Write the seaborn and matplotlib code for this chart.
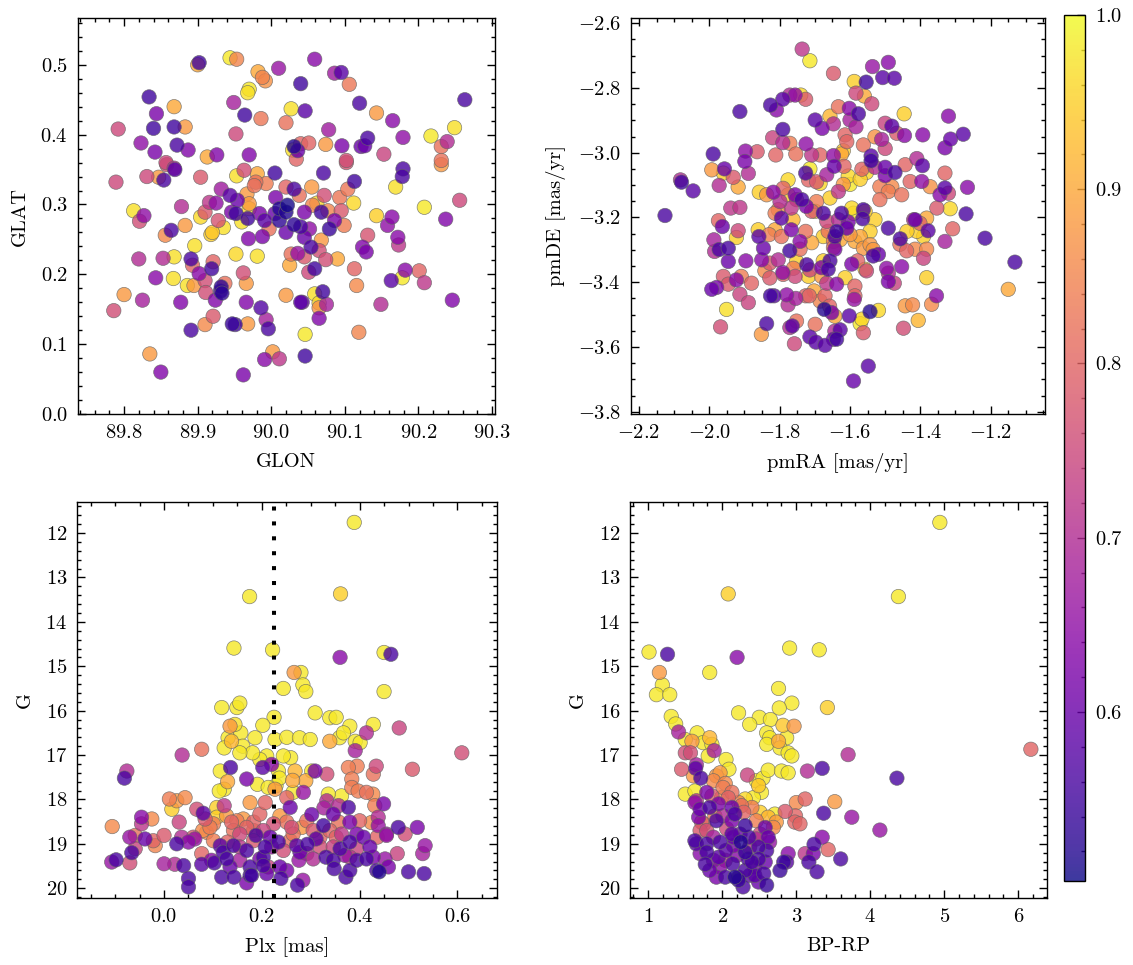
import numpy as np
import pandas as pd
import matplotlib
matplotlib.use("Agg")
import matplotlib.pyplot as plt
import seaborn as sns
from matplotlib.colors import Normalize
from matplotlib.cm import ScalarMappable

# ---------------- data: (x, y, membership probability) ----------------
sky_pts = [
 (89.792,0.408,.75),(89.834,0.454,.55),(89.844,0.430,.62),(89.840,0.409,.55),(89.823,0.388,.65),(89.842,0.375,.62),
 (89.868,0.440,.90),(89.868,0.411,.55),(89.883,0.411,.88),(89.872,0.385,.56),(89.887,0.378,.63),(89.900,0.500,.90),
 (89.902,0.503,.55),(89.944,0.510,.98),(89.953,0.508,.85),(89.949,0.446,.68),(89.952,0.401,.75),(89.964,0.428,.55),
 (89.970,0.371,.63),(89.926,0.371,.63),(89.913,0.368,.90),(89.982,0.490,.90),(89.988,0.482,.85),(89.992,0.477,.87),
 (89.970,0.465,.98),(89.968,0.460,.97),(89.986,0.423,.83),(90.010,0.495,.66),(90.020,0.417,.82),(90.027,0.437,.97),
 (90.040,0.473,.55),(90.046,0.434,.58),(90.059,0.508,.64),(90.029,0.378,.97),(90.031,0.383,.52),(90.036,0.377,.60),
 (90.040,0.387,.80),(90.051,0.388,.80),(90.034,0.365,.80),(90.078,0.407,.67),(90.074,0.386,.88),(90.086,0.488,.67),
 (90.095,0.489,.58),(90.106,0.472,.83),(90.096,0.384,.62),(90.120,0.445,.56),(90.131,0.395,.56),(90.122,0.383,.60),
 (90.127,0.384,.60),(90.143,0.431,.88),(90.165,0.420,.64),(90.153,0.372,.74),(90.179,0.396,.65),(90.102,0.363,.76),
 (90.217,0.398,.98),(90.231,0.383,.82),(90.239,0.390,.70),(90.249,0.410,.97),(90.263,0.450,.56),(89.857,0.360,.75),
 (90.231,0.363,.82),
 (89.789,0.332,.75),(89.813,0.291,.97),(89.827,0.284,.65),(89.821,0.276,.76),(89.831,0.340,.75),(89.847,0.339,.88),
 (89.854,0.335,.56),(89.858,0.357,.77),(89.868,0.352,.70),(89.869,0.350,.58),(89.878,0.297,.70),(89.904,0.339,.78),
 (89.864,0.263,.56),(89.856,0.256,.86),(89.883,0.270,.88),(89.896,0.241,.97),(89.904,0.282,.96),(89.910,0.289,.78),
 (89.916,0.303,.72),(89.925,0.302,.65),(89.920,0.260,.94),(89.918,0.257,.95),(89.928,0.277,.77),(89.935,0.267,.97),
 (89.932,0.322,.67),(89.944,0.313,.58),(89.953,0.341,.97),(89.963,0.349,.76),(89.954,0.306,.60),(89.952,0.287,.55),
 (89.946,0.289,.62),(89.960,0.275,.97),(89.967,0.315,.88),(89.970,0.301,.88),(89.970,0.294,.96),(89.968,0.280,.55),
 (89.969,0.251,.63),(89.981,0.344,.90),(89.979,0.332,.82),(89.977,0.327,.82),(89.993,0.330,.84),(90.005,0.345,.55),
 (89.991,0.277,.58),(89.988,0.254,.62),(89.997,0.265,.82),(90.006,0.310,.62),(90.005,0.287,.60),(89.984,0.287,.62),
 (90.020,0.325,.80),(90.031,0.322,.56),(90.022,0.299,.51),(90.011,0.294,.52),(90.020,0.289,.52),(90.011,0.277,.53),
 (90.031,0.271,.53),(90.040,0.268,.56),(90.020,0.260,.60),(90.045,0.289,.62),(90.045,0.253,.60),(90.038,0.313,.82),
 (90.055,0.325,.88),(90.056,0.299,.85),(90.052,0.265,.65),(90.054,0.239,.56),(90.062,0.302,.96),(90.068,0.289,.55),
 (90.071,0.345,.56),(90.072,0.313,.76),(90.077,0.291,.85),(90.068,0.249,.88),(90.065,0.234,.76),(90.074,0.221,.76),
 (90.079,0.265,.54),(90.086,0.277,.62),(90.095,0.291,.78),(90.090,0.222,.90),(90.093,0.310,.83),(90.104,0.322,.83),
 (90.113,0.333,.55),(90.102,0.360,.77),(90.112,0.302,.96),(90.099,0.270,.84),(90.059,0.208,.55),(90.051,0.203,.75),
 (90.036,0.230,.66),(90.027,0.229,.82),(90.025,0.213,.90),(90.045,0.225,.78),(90.113,0.208,.80),(90.131,0.256,.77),
 (90.124,0.239,.63),(90.129,0.232,.62),(90.143,0.284,.95),(90.158,0.270,.65),(90.164,0.282,.64),(90.172,0.253,.64),
 (90.173,0.242,.72),(90.169,0.325,.97),(90.179,0.351,.56),(90.178,0.340,.56),(90.208,0.296,.98),(90.231,0.357,.88),
 (90.237,0.279,.63),(90.256,0.306,.75),(90.182,0.206,.64),(90.178,0.195,.98),(90.163,0.191,.58),(90.201,0.205,.80),
 (90.208,0.188,.72),(90.116,0.184,.86),(89.820,0.222,.70),(89.853,0.223,.70),(89.868,0.225,.97),(89.843,0.195,.64),
 (89.867,0.194,.97),(89.891,0.222,.56),(89.893,0.213,.80),(89.902,0.201,.64),(89.919,0.208,.55),(89.921,0.218,.80),
 (89.910,0.191,.76),(89.886,0.184,.97),(89.895,0.184,.88),(89.932,0.182,.53),(89.937,0.187,.82),(89.952,0.229,.96),
 (89.962,0.202,.76),(89.966,0.187,.88),(89.981,0.226,.97),
 (89.786,0.148,.76),(89.800,0.171,.88),(89.825,0.163,.68),(89.835,0.086,.88),(89.850,0.060,.63),(89.877,0.160,.63),
 (89.891,0.120,.56),(89.910,0.128,.86),(89.921,0.140,.78),(89.911,0.174,.76),(89.924,0.163,.63),(89.933,0.173,.53),
 (89.931,0.176,.55),(89.947,0.129,.54),(89.951,0.128,.55),(89.966,0.160,.63),(89.968,0.129,.88),(89.962,0.056,.62),
 (89.986,0.152,.57),(89.993,0.135,.68),(89.996,0.122,.56),(89.991,0.078,.64),(90.002,0.089,.88),(90.011,0.079,.72),
 (90.020,0.170,.88),(90.040,0.160,.58),(90.042,0.160,.60),(90.046,0.114,.98),(90.046,0.083,.55),(90.059,0.172,.97),
 (90.065,0.159,.96),(90.065,0.152,.87),(90.070,0.175,.55),(90.075,0.157,.68),(90.065,0.137,.63),(90.119,0.117,.85),
 (90.149,0.157,.70),(90.246,0.163,.63),
]

pm_pts = [
 (-1.736,-2.680,.72),(-1.714,-2.716,.98),(-1.647,-2.755,.78),(-1.588,-2.780,.95),(-1.554,-2.782,.55),(-1.536,-2.734,.66),
 (-1.507,-2.768,.58),(-1.491,-2.721,.64),(-1.474,-2.770,.58),(-1.913,-2.873,.56),(-1.826,-2.853,.56),(-1.809,-2.868,.64),
 (-1.791,-2.835,.58),(-1.771,-2.822,.70),(-1.756,-2.822,.65),(-1.740,-2.822,.96),(-1.726,-2.835,.78),(-1.699,-2.899,.58),
 (-1.679,-2.925,.62),(-1.657,-2.887,.92),(-1.647,-2.911,.70),(-1.633,-2.858,.82),(-1.602,-2.863,.64),(-1.576,-2.880,.56),
 (-1.600,-2.899,.68),(-1.583,-2.920,.68),(-1.583,-2.816,.75),(-1.559,-2.825,.90),(-1.538,-2.849,.75),(-1.614,-2.945,.80),
 (-1.609,-2.966,.80),(-1.562,-2.976,.82),(-1.529,-2.951,.87),(-1.510,-2.959,.68),(-1.500,-2.987,.75),(-1.500,-2.909,.74),
 (-1.481,-2.918,.58),(-1.467,-2.940,.78),(-1.445,-2.947,.64),(-1.446,-2.880,.95),(-1.393,-2.945,.64),(-1.320,-2.887,.64),
 (-1.330,-2.985,.62),(-1.314,-2.958,.60),(-1.278,-2.943,.58),(-1.820,-2.954,.74),(-1.791,-2.969,.70),(-1.791,-2.928,.56),
 (-1.771,-2.971,.84),(-1.725,-2.973,.65),(-1.754,-3.004,.82),(-1.989,-3.004,.56),(-1.897,-2.995,.65),(-1.864,-2.997,.78),
 (-1.811,-3.007,.80),(-1.685,-3.007,.80),(-1.647,-3.009,.65),(-1.624,-3.004,.90),(-1.619,-2.994,.95),(-1.540,-3.010,.58),
 (-1.410,-3.018,.70),(-1.709,-3.007,.72),
 (-2.126,-3.194,.56),(-2.082,-3.084,.70),(-2.079,-3.091,.55),(-2.046,-3.118,.58),(-1.993,-3.053,.88),(-1.957,-3.050,.60),
 (-1.960,-3.063,.95),(-1.932,-3.076,.78),(-1.918,-3.106,.90),(-1.972,-3.101,.70),(-1.899,-3.027,.62),(-1.889,-3.064,.70),
 (-1.939,-3.171,.72),(-1.913,-3.169,.72),(-1.974,-3.210,.80),(-1.963,-3.228,.60),(-1.918,-3.241,.75),(-1.923,-3.262,.95),
 (-1.987,-3.269,.68),(-1.985,-3.305,.70),(-1.972,-3.299,.56),(-1.946,-3.295,.56),(-1.946,-3.336,.60),(-1.896,-3.334,.64),
 (-1.960,-3.382,.78),(-1.923,-3.393,.64),(-1.909,-3.382,.84),(-1.880,-3.403,.80),(-1.858,-3.122,.95),(-1.837,-3.130,.88),
 (-1.818,-3.122,.64),(-1.799,-3.151,.70),(-1.813,-3.187,.84),(-1.795,-3.202,.58),(-1.804,-3.176,.88),(-1.861,-3.238,.95),
 (-1.859,-3.259,.58),(-1.830,-3.253,.84),(-1.813,-3.238,.90),(-1.795,-3.259,.82),(-1.846,-3.295,.60),(-1.804,-3.331,.70),
 (-1.771,-3.303,.55),(-1.752,-3.336,.95),(-1.742,-3.274,.64),(-1.742,-3.298,.82),(-1.767,-3.238,.62),(-1.762,-3.207,.92),
 (-1.767,-3.171,.72),(-1.776,-3.130,.95),(-1.776,-3.084,.96),(-1.790,-3.110,.80),(-1.756,-3.130,.62),(-1.737,-3.145,.56),
 (-1.724,-3.166,.62),(-1.726,-3.063,.56),(-1.714,-3.050,.98),(-1.718,-3.084,.80),(-1.695,-3.090,.78),(-1.685,-3.095,.96),
 (-1.695,-3.151,.84),(-1.709,-3.181,.78),(-1.726,-3.243,.82),(-1.723,-3.346,.56),(-1.761,-3.357,.84),(-1.756,-3.382,.75),
 (-1.699,-3.181,.95),(-1.676,-3.187,.56),(-1.657,-3.140,.95),(-1.633,-3.120,.72),(-1.666,-3.068,.68),(-1.645,-3.042,.60),
 (-1.617,-3.042,.80),(-1.619,-3.098,.88),(-1.600,-3.098,.98),(-1.605,-3.072,.96),(-1.571,-3.082,.95),(-1.566,-3.051,.80),
 (-1.553,-3.061,.96),(-1.540,-3.025,.55),(-1.529,-3.045,.70),(-1.500,-3.045,.60),(-1.500,-3.071,.62),(-1.472,-3.061,.56),
 (-1.515,-3.105,.84),(-1.491,-3.120,.84),(-1.481,-3.105,.86),(-1.515,-3.145,.82),(-1.453,-3.130,.82),(-1.429,-3.089,.80),
 (-1.396,-3.089,.65),(-1.372,-3.105,.87),(-1.443,-3.037,.80),(-1.394,-3.040,.58),(-1.330,-3.063,.80),(-1.344,-3.130,.64),
 (-1.330,-3.109,.58),(-1.320,-3.125,.75),(-1.353,-3.171,.78),(-1.315,-3.173,.96),(-1.266,-3.107,.64),(-1.270,-3.189,.56),
 (-1.216,-3.264,.56),(-1.131,-3.338,.56),(-1.382,-3.386,.95),(-1.330,-3.274,.68),(-1.308,-3.235,.80),(-1.378,-3.241,.58),
 (-1.391,-3.259,.95),(-1.410,-3.243,.95),(-1.419,-3.207,.70),(-1.415,-3.207,.60),(-1.401,-3.218,.80),(-1.382,-3.202,.90),
 (-1.438,-3.243,.95),(-1.457,-3.266,.56),(-1.458,-3.283,.82),(-1.439,-3.303,.80),(-1.415,-3.298,.86),(-1.391,-3.326,.74),
 (-1.382,-3.298,.86),(-1.453,-3.352,.64),(-1.496,-3.357,.65),(-1.491,-3.372,.70),(-1.491,-3.398,.62),(-1.474,-3.403,.74),
 (-1.491,-3.233,.56),(-1.529,-3.207,.95),(-1.543,-3.243,.95),(-1.557,-3.181,.95),(-1.562,-3.176,.56),(-1.564,-3.204,.56),
 (-1.595,-3.171,.96),(-1.590,-3.187,.98),(-1.624,-3.187,.56),(-1.633,-3.207,.70),(-1.605,-3.214,.62),(-1.609,-3.233,.60),
 (-1.638,-3.243,.55),(-1.643,-3.259,.56),(-1.662,-3.243,.82),(-1.666,-3.212,.75),(-1.676,-3.259,.95),(-1.647,-3.274,.82),
 (-1.628,-3.269,.90),(-1.600,-3.253,.88),(-1.586,-3.274,.90),(-1.571,-3.259,.90),(-1.562,-3.295,.88),(-1.543,-3.284,.88),
 (-1.534,-3.319,.56),(-1.519,-3.314,.60),(-1.534,-3.299,.88),(-1.553,-3.365,.75),(-1.557,-3.360,.95),(-1.578,-3.334,.80),
 (-1.595,-3.344,.62),(-1.614,-3.386,.95),(-1.638,-3.406,.64),(-1.647,-3.293,.82),(-1.643,-3.298,.62),(-1.657,-3.334,.56),
 (-1.662,-3.360,.56),(-1.676,-3.334,.95),(-1.681,-3.355,.62),(-1.681,-3.382,.88),(-1.666,-3.403,.72),(-1.586,-3.412,.80),
 (-1.851,-3.331,.64),(-1.828,-3.341,.78),(-1.842,-3.365,.86),(-1.828,-3.387,.78),(-1.791,-3.370,.65),(-1.790,-3.376,.80),
 (-1.718,-3.382,.95),(-1.714,-3.362,.75),(-1.752,-3.145,.75),(-1.709,-3.278,.90),
 (-1.993,-3.422,.60),(-1.979,-3.416,.62),(-1.946,-3.406,.78),(-1.913,-3.437,.74),(-1.889,-3.463,.74),(-1.951,-3.484,.97),
 (-1.968,-3.538,.76),(-1.852,-3.561,.88),(-1.837,-3.528,.56),(-1.826,-3.442,.55),(-1.816,-3.442,.58),(-1.780,-3.439,.65),
 (-1.776,-3.470,.70),(-1.754,-3.450,.68),(-1.752,-3.520,.82),(-1.771,-3.540,.70),(-1.764,-3.535,.58),(-1.758,-3.590,.75),
 (-1.726,-3.442,.80),(-1.716,-3.442,.80),(-1.702,-3.427,.90),(-1.699,-3.530,.82),(-1.714,-3.569,.58),(-1.697,-3.585,.58),
 (-1.671,-3.595,.58),(-1.685,-3.458,.85),(-1.671,-3.442,.80),(-1.673,-3.484,.52),(-1.658,-3.474,.80),(-1.652,-3.494,.62),
 (-1.643,-3.505,.90),(-1.643,-3.551,.70),(-1.628,-3.547,.58),(-1.638,-3.576,.55),(-1.647,-3.576,.60),(-1.588,-3.453,.66),
 (-1.586,-3.442,.80),(-1.602,-3.504,.58),(-1.566,-3.514,.96),(-1.571,-3.528,.98),(-1.562,-3.556,.78),(-1.543,-3.491,.52),
 (-1.519,-3.487,.96),(-1.548,-3.659,.58),(-1.590,-3.705,.60),(-1.443,-3.473,.88),(-1.422,-3.470,.86),(-1.448,-3.542,.76),
 (-1.406,-3.518,.92),(-1.368,-3.468,.86),(-1.354,-3.442,.64),(-1.150,-3.422,.90),
]

plx_pts = [
 (0.389,11.76,.98),(0.175,13.43,.98),(0.361,13.37,.95),(0.143,14.59,.98),(0.222,14.63,.98),(0.360,14.80,.64),
 (0.450,14.69,.98),(0.464,14.73,.56),(0.266,15.14,.88),(0.280,15.14,.98),(0.284,15.42,.98),(0.244,15.50,.98),
 (0.290,15.57,.98),(0.450,15.57,.98),
 (0.118,15.93,.98),(0.149,15.93,.98),(0.155,15.83,.98),(0.309,16.05,.98),(0.225,16.15,.98),(0.135,16.35,.88),
 (0.145,16.31,.97),(0.138,16.69,.92),(0.131,16.61,.98),(0.157,16.50,.98),(0.123,16.84,.98),(0.161,16.80,.98),
 (0.186,16.61,.98),(0.202,16.33,.98),(0.227,16.65,.98),(0.251,16.60,.98),(0.277,16.61,.98),(0.299,16.65,.98),
 (0.339,16.69,.90),(0.339,16.16,.98),(0.352,16.15,.98),(0.359,16.61,.98),(0.380,16.35,.98),(0.367,16.50,.98),
 (0.391,16.69,.98),(0.401,16.72,.98),(0.428,16.31,.98),(0.414,16.50,.70),(0.391,16.90,.68),(0.481,16.39,.74),
 (0.609,16.95,.76),(0.508,17.32,.78),(0.434,17.25,.75),(0.428,17.43,.82),(0.395,17.25,.84),(0.377,17.28,.84),
 (0.384,17.54,.84),(0.384,17.73,.84),(0.397,17.81,.84),(0.414,17.84,.82),(0.363,17.92,.98),(0.336,17.88,.98),
 (0.333,17.43,.76),(0.309,17.36,.62),(0.302,17.36,.98),(0.290,17.58,.90),(0.285,17.84,.66),(0.268,17.36,.92),
 (0.263,17.57,.90),(0.264,17.84,.98),(0.259,17.06,.98),(0.244,17.02,.98),(0.234,17.36,.98),(0.229,17.69,.98),
 (0.227,17.77,.88),(0.236,17.52,.98),(0.220,17.21,.64),(0.202,17.28,.58),(0.210,17.02,.98),(0.196,17.10,.98),
 (0.181,16.95,.98),(0.191,17.66,.98),(0.213,17.73,.98),(0.169,17.54,.62),(0.155,16.95,.98),(0.130,17.60,.90),
 (0.123,17.77,.98),(0.115,17.36,.98),(0.136,17.28,.56),(0.113,17.81,.98),(0.077,16.87,.82),(0.037,17.00,.70),
 (-0.076,17.36,.70),(-0.081,17.52,.56),(0.011,17.99,.84),(0.026,18.03,.88),(0.043,17.96,.86),(0.016,18.22,.95),
 (-0.025,18.44,.86),(-0.046,18.40,.64),(-0.046,18.55,.72),(-0.106,18.61,.86),(0.067,18.22,.76),(0.080,18.31,.58),
 (0.031,18.51,.74),(0.108,18.18,.95),(0.123,18.14,.72),(0.108,18.40,.95),(0.128,18.37,.88),(0.101,18.55,.84),
 (0.087,18.74,.86),(0.079,18.70,.86),(0.060,18.85,.78),(-0.070,18.85,.66),(-0.059,18.81,.82),(-0.039,18.89,.60),
 (-0.022,18.93,.80),(-0.018,19.04,.85),(0.000,18.81,.78),(0.026,19.00,.56),(0.036,18.85,.70),(0.063,18.89,.66),
 (0.050,18.96,.64),(-0.066,19.20,.56),(-0.059,19.11,.74),(-0.107,19.41,.66),(-0.098,19.36,.56),(-0.070,19.43,.76),
 (0.000,19.45,.68),(0.022,19.46,.70),(0.040,19.49,.56),(0.050,19.78,.56),(0.050,19.97,.56),(0.077,19.46,.58),
 (0.077,19.22,.80),(0.097,19.37,.64),(0.103,19.43,.56),(0.115,19.04,.58),(0.121,19.19,.56),(0.128,19.34,.56),
 (0.118,19.75,.56),(0.143,19.75,.56),(0.135,19.52,.60),(0.169,19.88,.62),(0.176,19.52,.56),(0.176,19.71,.55),
 (0.179,19.71,.55),(0.203,19.30,.56),(0.203,19.49,.56),(0.210,19.67,.60),(0.169,19.15,.56),(0.188,18.81,.56),
 (0.217,18.85,.60),(0.234,18.96,.56),(0.239,19.78,.56),(0.251,19.60,.62),(0.237,19.52,.60),(0.273,19.93,.56),
 (0.284,19.82,.66),(0.276,19.37,.66),(0.271,19.04,.58),(0.278,19.19,.60),(0.293,19.01,.56),(0.311,18.89,.58),
 (0.302,18.34,.60),(0.258,18.18,.60),(0.327,18.19,.68),(0.326,18.59,.55),(0.331,19.30,.56),(0.346,19.37,.56),
 (0.348,19.56,.56),(0.360,19.11,.56),(0.372,19.75,.56),(0.380,19.60,.56),(0.380,18.96,.56),(0.380,18.51,.62),
 (0.377,18.18,.56),(0.333,18.03,.70),(0.400,18.48,.80),(0.394,18.78,.62),(0.408,18.85,.60),(0.394,19.37,.56),
 (0.414,19.34,.56),(0.421,19.07,.60),(0.428,19.30,.62),(0.436,18.85,.80),(0.438,18.40,.70),(0.438,18.59,.66),
 (0.449,18.10,.62),(0.431,18.14,.84),(0.427,17.88,.86),(0.424,18.52,.86),(0.455,18.78,.66),(0.455,18.81,.66),
 (0.435,19.60,.56),(0.440,19.63,.52),(0.459,19.52,.62),(0.452,19.34,.66),(0.479,18.63,.56),(0.493,18.78,.76),
 (0.477,19.22,.74),(0.500,19.63,.56),(0.518,18.63,.62),(0.529,19.22,.68),(0.534,19.04,.66),(0.532,19.67,.56),
 (0.149,18.48,.84),(0.162,18.44,.88),(0.142,18.70,.82),(0.183,18.51,.80),(0.196,18.33,.80),(0.207,18.07,.80),
 (0.176,18.07,.88),(0.169,18.63,.80),(0.155,18.78,.75),(0.183,18.93,.78),(0.203,18.70,.74),(0.224,18.55,.76),
 (0.251,18.51,.82),(0.237,18.37,.88),(0.251,17.96,.80),(0.261,18.63,.76),(0.282,18.63,.88),(0.292,18.48,.82),
 (0.305,18.70,.78),(0.319,18.85,.80),(0.339,18.70,.80),(0.357,18.51,.82),(0.352,18.85,.80),(0.363,18.78,.72),
 (0.346,18.33,.60),(0.357,18.14,.70),(0.130,18.96,.80),(0.155,19.07,.72),(0.142,19.04,.56),(0.101,18.93,.84),
 (0.220,19.07,.66),(0.244,19.15,.76),(0.258,18.93,.82),(0.292,19.22,.72),(0.305,19.34,.70),(0.196,19.34,.62),
 (0.264,18.78,.82),(0.183,18.70,.82),(0.138,18.51,.80),(0.094,18.63,.84),(0.084,18.44,.78),(0.207,19.07,.56),
 (0.213,19.52,.74),(0.155,19.37,.68),(0.380,19.30,.72),(0.394,19.11,.74),(0.370,19.26,.66),(0.346,19.07,.74),
 (0.319,19.07,.76),
]

cmd_pts = [
 (4.94,11.76,.98),(2.08,13.37,.95),(4.38,13.43,.98),(1.01,14.68,.98),(1.26,14.73,.56),(2.20,14.80,.64),
 (2.91,14.59,.98),(3.31,14.63,.98),(1.15,15.14,.88),(1.83,15.14,.98),(1.19,15.42,.98),(2.76,15.50,.98),
 (1.11,15.64,.98),(1.29,15.64,.98),(2.94,15.83,.98),(2.77,15.94,.98),(3.42,15.93,.95),(2.22,16.05,.98),
 (2.50,16.15,.98),(2.65,16.20,.98),(2.37,16.31,.98),(2.82,16.33,.94),(2.97,16.35,.88),(1.31,16.13,.98),
 (1.37,16.30,.98),(1.41,16.48,.68),(1.66,16.50,.98),(1.50,16.65,.98),(1.59,16.69,.88),(1.74,16.72,.98),
 (1.83,16.61,.92),(1.86,16.76,.98),(2.60,16.50,.98),(2.64,16.61,.98),(2.76,16.69,.90),(2.87,16.61,.98),
 (2.78,16.84,.98),(2.60,16.76,.98),(2.89,16.95,.98),(2.94,17.02,.98),(1.50,16.95,.76),(1.57,16.95,.76),
 (1.89,16.90,.68),(1.81,17.02,.98),(2.05,17.10,.98),(2.09,17.32,.98),(1.65,17.22,.68),(1.64,17.30,.58),
 (1.71,17.52,.56),(1.45,17.32,.78),(1.61,17.47,.88),(1.50,17.88,.98),(1.63,17.81,.98),(1.79,17.84,.62),
 (1.65,18.03,.70),(1.92,17.47,.88),(1.88,17.58,.86),(1.97,17.40,.88),(2.04,17.64,.86),(2.13,17.84,.82),
 (2.34,17.45,.74),(2.46,17.58,.98),(2.55,17.52,.98),(2.49,17.69,.94),(2.53,17.84,.98),(2.62,17.34,.98),
 (2.80,17.36,.98),(2.89,17.40,.98),(2.42,17.96,.98),(2.31,17.99,.96),(2.51,18.29,.95),(2.62,18.40,.92),
 (2.71,18.33,.98),(2.73,18.51,.88),(2.69,18.63,.86),(2.85,18.27,.78),(3.00,18.07,.86),(3.12,17.99,.80),
 (2.99,18.37,.80),(2.98,18.51,.80),(3.05,18.55,.80),(3.15,17.36,.70),(3.35,17.30,.56),(3.52,18.05,.88),
 (3.37,18.31,.56),(3.75,18.40,.66),(3.70,16.99,.70),(4.36,17.52,.56),(4.13,18.69,.66),(6.17,16.87,.80),
 (3.35,18.85,.64),(3.24,19.01,.56),(3.12,19.22,.72),(3.23,19.22,.62),(3.17,19.41,.56),(3.28,19.63,.56),
 (3.43,19.13,.80),(3.60,19.34,.56),(2.89,19.22,.64),(2.87,19.41,.58),(2.83,19.41,.54),(2.78,19.60,.54),
 (2.58,18.63,.60),(2.62,18.85,.60),(2.60,19.15,.56),(2.58,19.41,.60),(2.56,19.67,.56),(2.60,19.93,.54),
 (2.49,19.86,.60),(2.49,19.07,.56),(2.49,19.34,.56),
 (1.63,18.07,.65),(1.70,18.22,.60),(1.68,18.40,.62),(1.83,18.18,.56),(1.92,18.48,.56),(1.95,18.10,.62),
 (1.63,18.93,.56),(1.65,19.00,.58),(1.70,19.22,.64),(1.79,19.00,.56),(1.79,19.19,.56),(1.77,19.46,.56),
 (1.97,18.96,.56),(1.95,19.30,.58),(1.97,19.52,.64),(2.04,19.75,.56),(2.05,19.15,.58),(2.13,18.18,.60),
 (2.17,18.33,.56),(2.13,18.48,.62),(2.13,18.78,.58),(2.15,18.85,.60),(2.15,19.04,.62),(2.14,19.45,.56),
 (2.17,19.75,.52),(2.22,19.82,.54),(2.28,19.97,.56),(2.31,19.60,.56),(2.25,18.96,.52),(2.31,18.59,.54),
 (2.31,19.19,.54),(2.35,19.34,.56),(2.36,18.85,.56),(2.24,18.78,.60),(2.37,19.71,.58),(2.44,19.52,.62),
 (2.29,18.29,.80),(2.40,18.18,.84),(2.46,18.48,.84),(1.99,17.96,.86),(2.08,17.96,.80),(2.22,18.07,.85),
 (2.26,18.14,.82),(1.75,18.55,.84),(1.79,18.70,.76),(1.88,18.85,.68),(2.06,18.66,.75),(2.04,19.37,.72),
 (1.88,19.37,.64),(1.83,19.60,.60),(2.37,19.07,.70),(2.40,19.41,.56),(2.44,19.71,.58),(2.20,19.26,.64),
 (2.01,18.37,.70),(1.90,18.37,.84),(2.51,18.78,.76),(2.46,18.89,.70),(2.64,18.96,.66),(1.72,18.51,.80),
 (1.70,18.70,.78),(1.86,17.92,.78),(2.01,17.73,.84),(2.22,19.75,.58),(1.92,19.75,.62),
]

plx_ref = 0.225
prob_range = (0.503, 1.0)
cbar_ticks = [0.6, 0.7, 0.8, 0.9, 1.0]

# ---------------- style ----------------
sns.set_theme(style="ticks")
fs = 7.4
plt.rcParams.update({
    "font.family": "serif",
    "font.serif": ["cmr10", "DejaVu Serif"],
    "mathtext.fontset": "cm",
    "axes.formatter.use_mathtext": True,
    "font.size": fs, "axes.labelsize": fs, "xtick.labelsize": fs, "ytick.labelsize": fs,
    "text.color": "black", "axes.labelcolor": "black",
    "xtick.color": "black", "ytick.color": "black",
    "axes.edgecolor": "black", "axes.linewidth": 0.5,
    "xtick.direction": "in", "ytick.direction": "in",
    "xtick.top": True, "ytick.right": True,
    "xtick.minor.visible": True, "ytick.minor.visible": True,
    "xtick.major.size": 3, "ytick.major.size": 3,
    "xtick.minor.size": 1.5, "ytick.minor.size": 1.5,
    "xtick.major.width": 0.5, "ytick.major.width": 0.5,
    "xtick.minor.width": 0.5, "ytick.minor.width": 0.5,
})

W, H, DPI = 1133, 965, 200
fig = plt.figure(figsize=(W / DPI, H / DPI), dpi=DPI)

def px_axes(l, t, r, b):
    return fig.add_axes([l / W, 1 - b / H, (r - l) / W, (b - t) / H])

ax1 = px_axes(77.7, 18, 495, 414)
ax2 = px_axes(630.7, 18, 1045, 414)
ax3 = px_axes(77, 502, 497, 898)
ax4 = px_axes(630, 502, 1047, 898)

norm = Normalize(*prob_range)

def draw(ax, pts, xlab, ylab):
    df = pd.DataFrame(pts, columns=["x", "y", "p"])
    # low-probability members are drawn last (on top)
    df = df.sort_values("p", ascending=False, kind="stable")
    sns.scatterplot(data=df, x="x", y="y", hue="p", palette="plasma", hue_norm=norm,
                    s=27, alpha=0.8, edgecolor="0.4", linewidth=0.25, legend=False, ax=ax)
    ax.set_xlabel(xlab)
    ax.set_ylabel(ylab)
    ax.tick_params(which="both", direction="in", top=True, right=True)
    ax.minorticks_on()

draw(ax1, sky_pts, "GLON", "GLAT")
ax1.set_xlim(89.737, 90.304)
ax1.set_ylim(0.0, 0.567)

draw(ax2, pm_pts, "pmRA [mas/yr]", "pmDE [mas/yr]")
ax2.set_xlim(-2.2235, -1.0455)
ax2.set_ylim(-3.807, -2.584)

draw(ax3, plx_pts, "Plx [mas]", "G")
ax3.axvline(plx_ref, color="black", lw=1.45, ls=(0, (1, 2.7)))
ax3.set_xlim(-0.178, 0.681)
ax3.set_ylim(20.22, 11.30)

draw(ax4, cmd_pts, "BP-RP", "G")
ax4.set_xlim(0.753, 6.388)
ax4.set_ylim(20.22, 11.30)

cax = px_axes(1064, 15, 1085, 881)
sm = ScalarMappable(norm=norm, cmap="plasma")
cb = fig.colorbar(sm, cax=cax, alpha=0.8)
cb.set_ticks(cbar_ticks)
cb.ax.minorticks_on()
cb.ax.tick_params(which="both", direction="in")
cb.outline.set_linewidth(0.5)

fig.savefig("out.png", dpi=DPI)
